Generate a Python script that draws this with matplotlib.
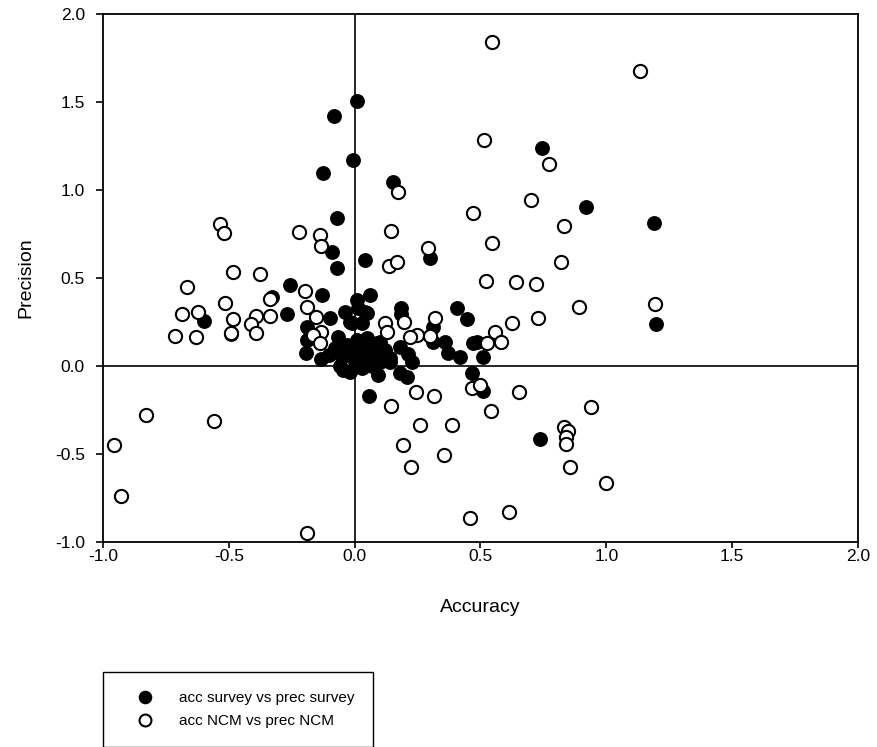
import matplotlib
matplotlib.use("Agg")
import matplotlib.pyplot as plt

plt.rcParams['font.family'] = ['Liberation Sans', 'DejaVu Sans']

# acc survey vs prec survey (filled)
survey_acc = [0.01, -0.082, -0.007, -0.126, 0.743, 0.153, 0.921, 1.189, 1.197,
              -0.070, -0.090, -0.072, 0.041, 0.299, -0.258, -0.130, -0.327, -0.600,
              -0.268, -0.097, -0.040, 0.008, 0.061, 0.041, -0.019, 0.028, -0.188,
              -0.19, -0.066, -0.192, -0.133, -0.490, 0.184, 0.186, 0.405, 0.445,
              0.312, 0.312, 0.358, 0.372, 0.418, 0.180, 0.21, 0.140, 0.100, 0.087,
              0.485, 0.471, 0.511, 0.466, 0.508, 0.058, 0.737, 0.180, 0.206, 0.094,
              0.140, 0.226, -0.045, -0.019, 0.014, 0.048, -0.012,
              -0.05, -0.02, 0.0, 0.02, 0.04, -0.03, 0.06, 0.08, 0.10, 0.03, 0.01,
              0.05, -0.08, 0.12, -0.10, 0.0, -0.06, 0.07]
survey_prec = [1.504, 1.419, 1.172, 1.097, 1.239, 1.047, 0.902, 0.814, 0.237,
               0.843, 0.646, 0.559, 0.602, 0.615, 0.460, 0.405, 0.394, 0.256,
               0.294, 0.275, 0.309, 0.375, 0.403, 0.309, 0.252, 0.242, 0.220,
               0.150, 0.167, 0.076, 0.038, 0.180, 0.328, 0.295, 0.331, 0.265,
               0.223, 0.138, 0.138, 0.072, 0.052, 0.110, 0.07, 0.044, 0.138, 0.129,
               0.138, 0.129, 0.053, -0.042, -0.142, -0.169, -0.417, -0.042, -0.061, -0.051,
               0.024, 0.024, -0.023, -0.032, 0.328, 0.299, 0.242,
               0.05, 0.08, 0.02, 0.06, 0.10, 0.12, 0.04, 0.08, 0.02, -0.01, 0.15,
               0.16, 0.10, 0.09, 0.06, 0.10, 0.0, 0.0]

# acc NCM vs prec NCM (open)
ncm_acc = [0.547, 1.133, 0.514, 0.772, 0.173, 0.700, 0.471, -0.534, -0.519, -0.220,
           -0.139, -0.135, 0.146, 0.547, 0.832, 0.292, 0.137, 0.169, 0.818, -0.484,
           -0.378, 0.522, 0.640, 0.719, -0.666, -0.196, -0.517, -0.335, -0.189, 1.194,
           0.892, -0.685, -0.623, -0.483, -0.393, -0.335, -0.413, -0.490, -0.391, -0.712,
           -0.629, -0.155, -0.133, -0.166, -0.139, 0.197, 0.120, 0.127, 0.318, 0.727,
           0.626, 0.557, 0.581, 0.526, 0.246, 0.219, 0.299,
           -0.830, -0.559, -0.955, -0.927, -0.188, 0.244, 0.315, 0.146, 0.465, 0.500,
           0.654, 0.541, 0.259, 0.388, 0.191, 0.356, 0.224, 0.832, 0.849, 0.838,
           0.841, 0.855, 0.938, 0.458, 0.613, 0.998]
ncm_prec = [1.843, 1.674, 1.284, 1.148, 0.990, 0.943, 0.871, 0.807, 0.754, 0.761,
            0.742, 0.682, 0.767, 0.701, 0.795, 0.669, 0.570, 0.593, 0.593, 0.532,
            0.525, 0.485, 0.475, 0.468, 0.447, 0.428, 0.360, 0.383, 0.333, 0.352,
            0.333, 0.295, 0.307, 0.265, 0.284, 0.284, 0.239, 0.189, 0.186, 0.170,
            0.163, 0.280, 0.195, 0.176, 0.132, 0.248, 0.242, 0.195, 0.275, 0.275,
            0.242, 0.195, 0.135, 0.129, 0.176, 0.167, 0.172,
            -0.278, -0.311, -0.449, -0.737, -0.951, -0.146, -0.170, -0.227, -0.127, -0.108,
            -0.146, -0.256, -0.335, -0.335, -0.449, -0.506, -0.572, -0.345, -0.369, -0.402,
            -0.445, -0.572, -0.235, -0.862, -0.831, -0.667]

x_ticks = [-1.0, -0.5, 0.0, 0.5, 1.0, 1.5, 2.0]
y_ticks = [-1.0, -0.5, 0.0, 0.5, 1.0, 1.5, 2.0]

fig = plt.figure(figsize=(8.77, 7.47), dpi=100)
ax = fig.add_axes([103/877, 1-542/747, 755/877, 528/747])

ax.axvline(0, color='black', lw=1.2, zorder=1)
ax.axhline(0, color='black', lw=1.2, zorder=1)

ax.plot(survey_acc, survey_prec, 'o', ls='none', color='black', markersize=9.5,
        markeredgewidth=1.2, label='acc survey vs prec survey', zorder=2)
ax.plot(ncm_acc, ncm_prec, 'o', ls='none', markerfacecolor='white',
        markeredgecolor='black', markersize=9.5, markeredgewidth=1.5,
        label='acc NCM vs prec NCM', zorder=3)

ax.set_xlim(-1.0, 2.0)
ax.set_ylim(-1.0, 2.0)
ax.set_xticks(x_ticks)
ax.set_yticks(y_ticks)
ax.set_xticklabels([f"{v:.1f}" for v in x_ticks])
ax.set_yticklabels([f"{v:.1f}" for v in y_ticks])
ax.tick_params(direction='out', width=1.2, labelsize=12.5)
ax.tick_params(axis='x', length=4, pad=1)
ax.tick_params(axis='y', length=5, pad=8)
for s in ax.spines.values():
    s.set_linewidth(1.3)

ax.set_xlabel('Accuracy', fontsize=14, labelpad=25)
ax.set_ylabel('Precision', fontsize=14, labelpad=15)

handles, labels = ax.get_legend_handles_labels()
leg = fig.legend(handles, labels, loc='upper left', bbox_to_anchor=(103/877, 1-672/747),
                 frameon=True, fancybox=False, edgecolor='black', framealpha=1,
                 fontsize=11, borderpad=1.25, handletextpad=0.7, labelspacing=0.6,
                 borderaxespad=0, handlelength=3.0, markerscale=0.9)
leg.get_frame().set_linewidth(1.0)

fig.savefig('out.png', dpi=100)
